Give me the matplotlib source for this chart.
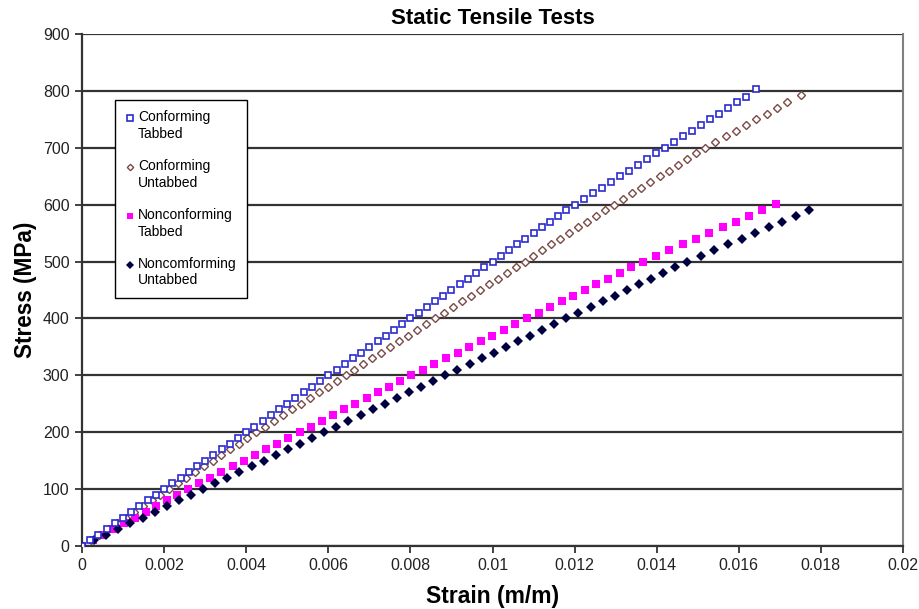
import matplotlib
matplotlib.use("Agg")
import matplotlib.pyplot as plt
from matplotlib.legend_handler import HandlerLine2D

plt.rcParams['font.family'] = ['Liberation Sans', 'DejaVu Sans']

# ---- data: stress in MPa, strain in micro-strain ----
stress_ct = [0, 10, 20, 30, 40, 50, 60, 70, 80, 90, 100, 110, 120, 130, 140, 150, 160, 170, 180, 190,
             200, 210, 220, 230, 240, 250, 260, 270, 280, 290, 300, 310, 320, 330, 340, 350, 360, 370,
             380, 390, 400, 410, 420, 430, 440, 450, 460, 470, 480, 490, 500, 510, 520, 530, 540, 550,
             560, 570, 580, 590, 600, 610, 620, 630, 640, 650, 660, 670, 680, 690, 700, 710, 720, 730,
             740, 750, 760, 770, 780, 790, 803]
strain_ct = [0, 200, 400, 600, 800, 1000, 1200, 1400, 1600, 1800, 2000, 2200, 2400, 2600, 2800, 3000,
             3200, 3400, 3600, 3800, 4000, 4200, 4400, 4600, 4800, 5000, 5200, 5400, 5600, 5800, 6000,
             6200, 6400, 6600, 6800, 7000, 7200, 7400, 7600, 7800, 8000, 8200, 8400, 8600, 8800, 9000,
             9200, 9400, 9600, 9800, 10000, 10200, 10400, 10600, 10800, 11000, 11200, 11400, 11600,
             11800, 12000, 12220, 12440, 12660, 12880, 13100, 13320, 13540, 13760, 13980, 14200, 14420,
             14640, 14860, 15080, 15300, 15520, 15740, 15960, 16180, 16420]

stress_cu = [0, 10, 20, 30, 40, 50, 60, 70, 80, 90, 100, 110, 120, 130, 140, 150, 160, 170, 180, 190,
             200, 210, 220, 230, 240, 250, 260, 270, 280, 290, 300, 310, 320, 330, 340, 350, 360, 370,
             380, 390, 400, 410, 420, 430, 440, 450, 460, 470, 480, 490, 500, 510, 520, 530, 540, 550,
             560, 570, 580, 590, 600, 610, 620, 630, 640, 650, 660, 670, 680, 690, 700, 710, 720, 730,
             740, 750, 760, 770, 780, 793]
strain_cu = [0, 212, 424, 636, 848, 1060, 1272, 1484, 1696, 1908, 2120, 2332, 2544, 2756, 2968, 3180,
             3392, 3604, 3816, 4028, 4240, 4458, 4676, 4894, 5112, 5330, 5548, 5766, 5984, 6202, 6420,
             6638, 6856, 7074, 7292, 7510, 7728, 7946, 8164, 8382, 8600, 8818, 9036, 9254, 9472, 9690,
             9908, 10126, 10344, 10562, 10780, 10998, 11216, 11434, 11652, 11870, 12088, 12306, 12524,
             12742, 12960, 13182, 13404, 13626, 13848, 14070, 14292, 14514, 14736, 14958, 15180, 15430,
             15680, 15930, 16180, 16430, 16680, 16930, 17180, 17510]

stress_nt = [0, 10, 20, 30, 40, 50, 60, 70, 80, 90, 100, 110, 120, 130, 140, 150, 160, 170, 180, 190,
             200, 210, 220, 230, 240, 250, 260, 270, 280, 290, 300, 310, 320, 330, 340, 350, 360, 370,
             380, 390, 400, 410, 420, 430, 440, 450, 460, 470, 480, 490, 500, 510, 520, 530, 540, 550,
             560, 570, 580, 590, 602]
strain_nt = [0, 258, 516, 774, 1032, 1290, 1548, 1806, 2064, 2322, 2580, 2852, 3124, 3396, 3668, 3940,
             4212, 4484, 4756, 5028, 5300, 5572, 5844, 6116, 6388, 6660, 6932, 7204, 7476, 7748, 8020,
             8302, 8584, 8866, 9148, 9430, 9712, 9994, 10276, 10558, 10840, 11122, 11404, 11686, 11968,
             12250, 12532, 12814, 13096, 13378, 13660, 13984, 14308, 14632, 14956, 15280, 15604, 15928,
             16252, 16576, 16900]

stress_nu = [0, 10, 20, 30, 40, 50, 60, 70, 80, 90, 100, 110, 120, 130, 140, 150, 160, 170, 180, 190,
             200, 210, 220, 230, 240, 250, 260, 270, 280, 290, 300, 310, 320, 330, 340, 350, 360, 370,
             380, 390, 400, 410, 420, 430, 440, 450, 460, 470, 480, 490, 500, 510, 520, 530, 540, 550,
             560, 570, 580, 590]
strain_nu = [0, 295, 590, 885, 1180, 1475, 1770, 2065, 2360, 2655, 2950, 3245, 3540, 3835, 4130, 4425,
             4720, 5015, 5310, 5605, 5900, 6195, 6490, 6785, 7080, 7375, 7670, 7965, 8260, 8555, 8850,
             9145, 9440, 9735, 10030, 10325, 10620, 10915, 11210, 11505, 11800, 12095, 12390, 12685,
             12980, 13275, 13570, 13865, 14160, 14455, 14750, 15079, 15408, 15737, 16066, 16395, 16724,
             17053, 17382, 17711]

labels = ["Conforming\nTabbed", "Conforming\nUntabbed", "Nonconforming\nTabbed", "Noncomforming\nUntabbed"]
x_ticks = [0, 0.002, 0.004, 0.006, 0.008, 0.01, 0.012, 0.014, 0.016, 0.018, 0.02]
x_ticklabels = ["0", "0.002", "0.004", "0.006", "0.008", "0.01", "0.012", "0.014", "0.016", "0.018", "0.02"]
y_ticks = [0, 100, 200, 300, 400, 500, 600, 700, 800, 900]


class TopHandler(HandlerLine2D):
    # put the legend marker next to the first line of a two-line label
    def create_artists(self, legend, orig_handle, xdescent, ydescent, width, height, fontsize, trans):
        arts = super().create_artists(legend, orig_handle, xdescent, ydescent, width, height, fontsize, trans)
        for a in arts:
            y = a.get_ydata()
            a.set_ydata([v + 0.6 * fontsize for v in y])
        return arts


fig = plt.figure(figsize=(9.19, 6.09), dpi=100)
ax = fig.add_axes([82 / 919, 1 - 546 / 609, 821 / 919, 512 / 609])

def us(v):
    return [s / 1e6 for s in v]

l1, = ax.plot(us(strain_ct), stress_ct, ls='none', marker='s', ms=5, mfc='white', mec='#2b2bd0', mew=1.2,
              label=labels[0], zorder=4)
l2, = ax.plot(us(strain_cu), stress_cu, ls='none', marker='D', ms=3.6, mfc='white', mec='#7a4a44', mew=1.0,
              label=labels[1], zorder=3)
l3, = ax.plot(us(strain_nt), stress_nt, ls='none', marker='s', ms=5.5, mfc='#ff00ff', mec='#ff00ff', mew=0,
              label=labels[2], zorder=3)
l4, = ax.plot(us(strain_nu), stress_nu, ls='none', marker='D', ms=5, mfc='#000040', mec='#000040', mew=0,
              label=labels[3], zorder=3)

ax.set_xlim(0, 0.02)
ax.set_ylim(0, 900)
ax.set_xticks(x_ticks)
ax.set_xticklabels(x_ticklabels)
ax.set_yticks(y_ticks)
ax.yaxis.grid(True, color='#333333', lw=1.6)
ax.set_axisbelow(True)

ax.spines['top'].set_visible(False)
ax.spines['right'].set_color('#7f7f7f')
ax.spines['right'].set_linewidth(1.5)
ax.spines['left'].set_color('#333333')
ax.spines['left'].set_linewidth(1.6)
ax.spines['bottom'].set_color('#333333')
ax.spines['bottom'].set_linewidth(1.6)
ax.tick_params(axis='both', direction='out', length=5, width=1.3, color='#333333',
               labelsize=11.5, labelcolor='#222222', pad=4)

ax.set_title("Static Tensile Tests", fontsize=16, fontweight='bold', pad=7)
ax.set_xlabel("Strain (m/m)", fontsize=16.5, fontweight='bold', labelpad=8)
ax.set_ylabel("Stress (MPa)", fontsize=16.3, fontweight='bold', labelpad=4)

leg = ax.legend(handles=[l1, l2, l3, l4], loc='upper left', bbox_to_anchor=(115 / 919, 1 - 100 / 609),
                bbox_transform=fig.transFigure, borderaxespad=0, fontsize=10, frameon=True, fancybox=False,
                edgecolor='black', framealpha=1, handlelength=0.6, handletextpad=0.3, labelspacing=1.35,
                borderpad=0.75, markerscale=0.9, handler_map={matplotlib.lines.Line2D: TopHandler()})
leg.get_frame().set_linewidth(1.0)

fig.savefig("out.png", dpi=100)
